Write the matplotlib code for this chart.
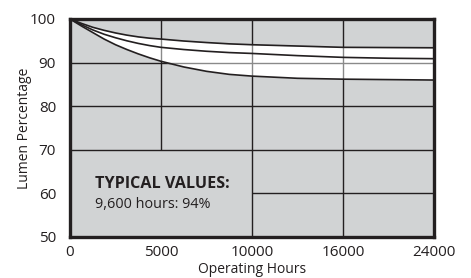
import numpy as np
import matplotlib
matplotlib.use("Agg")
import matplotlib.pyplot as plt

plt.rcParams['font.family'] = ['Open Sans', 'DejaVu Sans']

# tick hours are spaced evenly on the chart, not linearly
tick_hours = [0, 5000, 10000, 16000, 24000]
tick_labels = ['0', '5000', '10000', '16000', '24000']
y_ticks = [50, 60, 70, 80, 90, 100]

hours = [0, 625, 1250, 1875, 2500, 3125, 3750, 4375, 5000, 6250, 7500, 8750,
         10000, 13000, 16000, 20000, 24000]
upper = [100, 99.0, 98.1, 97.4, 96.8, 96.3, 95.9, 95.6, 95.4, 94.95, 94.6, 94.3,
         94.1, 93.8, 93.5, 93.45, 93.4]
middle = [100, 98.7, 97.5, 96.5, 95.7, 95.0, 94.4, 93.9, 93.5, 93.0, 92.6, 92.3,
          92.1, 91.6, 91.2, 91.0, 90.9]
lower = [100, 98.4, 96.9, 95.4, 94.1, 93.0, 92.0, 91.1, 90.3, 89.0, 88.0, 87.3,
         86.9, 86.4, 86.2, 86.1, 86.0]

idx = np.arange(len(tick_hours), dtype=float)

def fwd(x):
    return np.interp(x, tick_hours, idx)

def inv(x):
    return np.interp(x, idx, tick_hours)

ink = '#231f20'
bg = '#d1d3d4'

fig = plt.figure(figsize=(4.71, 2.78), dpi=100)
ax = fig.add_axes([70/471, 1-237/278, 364/471, 218/278])
ax.set_xscale('function', functions=(fwd, inv))
ax.set_xlim(0, 24000)
ax.set_ylim(50, 100)
ax.set_facecolor(bg)

# grid (a few segments are left out around the note)
ax.vlines(5000, 70, 100, color=ink, lw=1, zorder=1)
ax.vlines([10000, 16000], 50, 100, color=ink, lw=1, zorder=1)
ax.hlines([70, 80, 90], 0, 24000, color=ink, lw=1, zorder=1)
ax.hlines(60, 10000, 24000, color=ink, lw=1, zorder=1)

band = ax.fill_between(hours, lower, upper, color='white', lw=0, zorder=2)

# lighter grid inside the white band
clip = band.get_paths()[0]
for seg in [ax.vlines([5000, 10000, 16000], 50, 100, color='#8a8a8a', lw=1, zorder=3),
            ax.hlines([70, 80, 90], 0, 24000, color='#8a8a8a', lw=1, zorder=3)]:
    seg.set_clip_path(clip, ax.transData)

for ys in (upper, middle, lower):
    ax.plot(hours, ys, color=ink, lw=1.2, zorder=4)

ax.set_xticks(tick_hours)
ax.set_xticklabels(tick_labels)
ax.set_yticks(y_ticks)
ax.tick_params(length=0, labelsize=11, colors=ink, pad=6)
ax.tick_params(axis='y', pad=10)
for s in ax.spines.values():
    s.set_linewidth(2.4)
    s.set_color(ink)
    s.set_zorder(5)

ax.set_xlabel('Operating Hours', fontsize=10, color=ink, labelpad=1)
ax.set_ylabel('Lumen Percentage', fontsize=10, color=ink, labelpad=-1)

ax.text(0.068, 0.223, 'TYPICAL VALUES:', transform=ax.transAxes, fontsize=11.6,
        fontweight='bold', color=ink, va='baseline')
ax.text(0.068, 0.132, '9,600 hours: 94%', transform=ax.transAxes, fontsize=10.4,
        color=ink, va='baseline')

fig.savefig('out.png', dpi=100)
